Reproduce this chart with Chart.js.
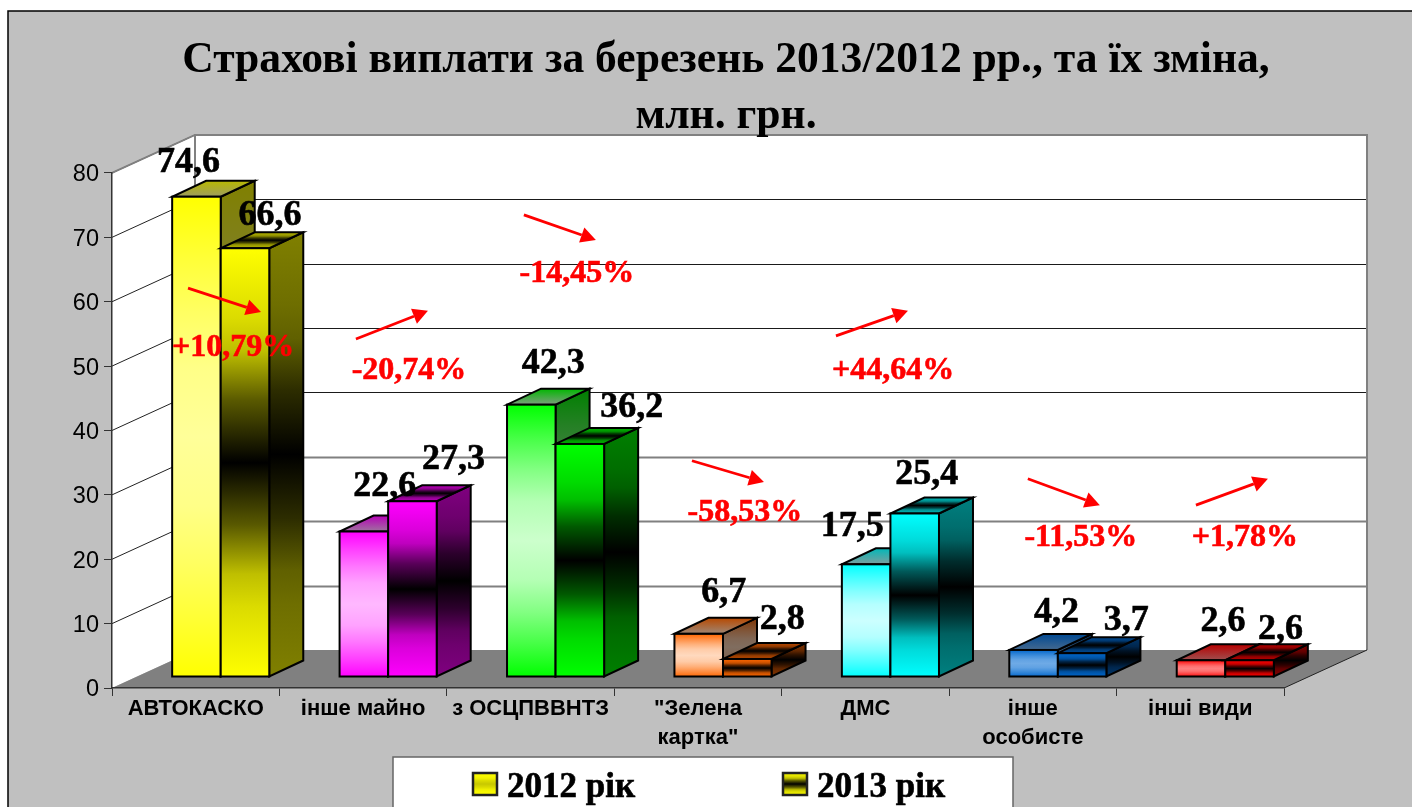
<!DOCTYPE html>
<html lang="uk">
<head>
<meta charset="utf-8">
<title>Страхові виплати</title>
<style>html,body{margin:0;padding:0;background:#fff;overflow:hidden}canvas{display:block}</style>
<script src="https://cdn.jsdelivr.net/npm/chart.js@4"></script>
</head>
<body>
<canvas id="c" width="1412" height="807"></canvas>
<script>
const categories = ['АВТОКАСКО','інше майно','з ОСЦПВВНТЗ',['"Зелена','картка"'],'ДМС',['інше','особисте'],'інші види'];
const values2012 = [74.6,22.6,42.3,6.7,17.5,4.2,2.6];
const values2013 = [66.6,27.3,36.2,2.8,25.4,3.7,2.6];
const labels2012 = ['74,6','22,6','42,3','6,7','17,5','4,2','2,6'];
const labels2013 = ['66,6','27,3','36,2','2,8','25,4','3,7','2,6'];
const changeLabels = ['+10,79%','-20,74%','-14,45%','-58,53%','+44,64%','-11,53%','+1,78%'];
const seriesNames = ['2012 рік','2013 рік'];
const yTicks = [0,10,20,30,40,50,60,70,80];

// styling: [r,g,b] face colour for every category
const faceColours = [[255,255,0],[255,0,255],[0,255,0],[255,102,0],[0,255,255],[0,102,204],[255,0,0]];
const midColours2012 = [[255,255,153],[255,184,255],[204,255,204],[255,217,190],[204,255,255],[110,170,230],[255,128,128]];

// layout of annotations, in axis units: [category position, value]
const arrowFrom = [[-0.046,62.1],[0.957,54.2],[1.96,73.5],[2.964,35.3],[3.824,54.7],[4.97,32.5],[5.974,28.4]];
const arrowTo   = [[0.39,58.4],[1.387,58.6],[2.39,69.6],[3.394,32],[4.254,58.6],[5.40,28.4],[6.404,32.5]];
const changeAt  = [[0.223,51.6],[1.274,48],[2.277,63.1],[3.28,25.9],[4.165,48],[5.287,22.1],[6.267,22.1]];
// value-label offsets from the front-top centre of a bar, pixels
const offs2012 = [[-8,-25],[21,-36],[22,-32],[25,-32],[-14,-28],[23,-28],[22,-29]];
const offs2013 = [[25,-23],[41,-32],[52,-27],[35,-30],[12,-29],[44,-23],[31,-21]];

const WALL_DX = 83, WALL_DY = 38;      // depth of the walls
const BAR_DX = 25, BAR_DY = -11;       // bars stand a bit inside the floor
const DEPTH_X = 34, DEPTH_Y = 16;      // depth of a bar
const SERIF = '"Liberation Serif"';
const SANS = '"Liberation Sans"';

const rgb = (c,k=1)=>`rgb(${Math.round(c[0]*k)},${Math.round(c[1]*k)},${Math.round(c[2]*k)})`;
const mix = (a,b,t)=>[0,1,2].map(n=>a[n]+(b[n]-a[n])*t);
// how quickly the colour leaves the mid band: [distance from mid, share of edge colour]
const RAMPS = [
  [[0,0],[.29,.12],[.52,.36],[.75,.65],[1,1]],
  [[0,0],[.29,.35],[.52,.75],[.67,.86],[1,1]]
];

function band(ctx,y0,y1,edge,mid,ds,k=1){
  const g = ctx.createLinearGradient(0,y0,0,y1);
  RAMPS[ds].forEach(([d,t])=>{
    const col = rgb(mix(mid,edge,t),k);
    g.addColorStop(.5-d/2,col); g.addColorStop(.5+d/2,col);
  });
  return g;
}
function midOf(ds,i){ return ds===0 ? midColours2012[i] : [0,0,0]; }

const faceFill = (ds)=>(c)=>{
  const i = c.dataIndex, ch = c.chart, col = faceColours[i];
  if (i===undefined || !ch.scales.y) return '#000';
  const v = ch.data.datasets[ds].data[i];
  const y0 = ch.scales.y.getPixelForValue(v), y1 = ch.scales.y.getPixelForValue(0);
  if (!isFinite(y0) || !isFinite(y1)) return rgb(col);
  return band(ch.ctx, y0, y1, col, midOf(ds,i), ds);
};

function poly(ctx,pts,fill,stroke,lw){
  ctx.beginPath();
  pts.forEach((p,i)=> i?ctx.lineTo(p[0],p[1]):ctx.moveTo(p[0],p[1]));
  ctx.closePath();
  if(fill){ctx.fillStyle=fill;ctx.fill();}
  if(stroke){ctx.strokeStyle=stroke;ctx.lineWidth=lw;ctx.lineJoin='miter';ctx.stroke();}
}
function heavyText(ctx,t,x,y,colour){
  ctx.fillStyle=colour; ctx.strokeStyle=colour; ctx.lineWidth=.6;
  ctx.fillText(t,x,y); ctx.strokeText(t,x,y);
}

const scene = {
  id:'scene',
  afterLayout(chart){ chart.titleBlock.left = 168; },
  beforeDraw(chart){
    const {ctx,chartArea:a,scales:{y}} = chart;
    // the value-axis numbers sit a little lower than the library's centring
    y.getLabelItems(a).forEach(it=>{
      if(!it.moved){ it.options.translation[1]+=2; it.moved=true; }
    });
    ctx.save();
    ctx.fillStyle='#fff'; ctx.fillRect(0,0,1412,807);
    ctx.fillStyle='#C0C0C0'; ctx.fillRect(8,11,1404,796);
    ctx.strokeStyle='#000'; ctx.lineWidth=1.5;
    ctx.beginPath(); ctx.moveTo(8,807); ctx.lineTo(8,11); ctx.lineTo(1412,11); ctx.stroke();
    const L=a.left,R=a.right,T=a.top,B=a.bottom;
    // walls and floor
    poly(ctx,[[L,T],[L+WALL_DX,T-WALL_DY],[L+WALL_DX,B-WALL_DY],[L,B]],'#fff');
    ctx.fillStyle='#fff'; ctx.fillRect(L+WALL_DX,T-WALL_DY,R-L,B-T);
    poly(ctx,[[L,B],[L+WALL_DX,B-WALL_DY],[R+WALL_DX,B-WALL_DY],[R,B]],'#808080');
    // grid
    yTicks.forEach(v=>{
      if(v===0) return;
      const p=y.getPixelForValue(v);
      ctx.beginPath();
      ctx.strokeStyle='#222'; ctx.lineWidth=1;
      ctx.moveTo(L,p); ctx.lineTo(L+WALL_DX,p-WALL_DY); ctx.stroke();
      if(v===80) return;
      ctx.beginPath();
      if(v>=40){ctx.strokeStyle='#1a1a1a';ctx.lineWidth=1;}
      else {ctx.strokeStyle='#808080';ctx.lineWidth=2;}
      const q=Math.round(p-WALL_DY)+.5;
      ctx.moveTo(L+WALL_DX,q); ctx.lineTo(R+WALL_DX,q); ctx.stroke();
    });
    // wall outline
    ctx.strokeStyle='#808080'; ctx.lineWidth=2;
    ctx.beginPath();
    ctx.moveTo(L,T); ctx.lineTo(L+WALL_DX,T-WALL_DY); ctx.lineTo(R+WALL_DX,T-WALL_DY); ctx.lineTo(R+WALL_DX,B-WALL_DY);
    ctx.moveTo(L+WALL_DX,T-WALL_DY); ctx.lineTo(L+WALL_DX,B-WALL_DY);
    ctx.stroke();
    ctx.strokeStyle='#222'; ctx.lineWidth=1;
    ctx.beginPath(); ctx.moveTo(R+WALL_DX,B-WALL_DY); ctx.lineTo(R,B); ctx.stroke();
    ctx.restore();
  },
  beforeDatasetsDraw(chart){
    const {ctx} = chart;
    const metas=[chart.getDatasetMeta(0),chart.getDatasetMeta(1)];
    ctx.save();
    ctx.translate(BAR_DX,BAR_DY);
    categories.forEach((_,i)=>{
      metas.forEach((m,ds)=>{
        const el=m.data[i]; const w=el.width, x0=el.x-w/2, x1=el.x+w/2, t=el.y, b=el.base;
        const c=faceColours[i], mid=midOf(ds,i);
        // side
        const sideFill=band(ctx,t-DEPTH_Y,b,c,mid,ds,.5);
        poly(ctx,[[x1,t],[x1+DEPTH_X,t-DEPTH_Y],[x1+DEPTH_X,b-DEPTH_Y],[x1,b]],sideFill,'#000',2);
        // top
        let topFill;
        if(ds===0){
          topFill=ctx.createLinearGradient(0,t-DEPTH_Y,0,t);
          topFill.addColorStop(0,rgb(c,.72)); topFill.addColorStop(1,rgb(mid,.62));
        } else topFill=band(ctx,t-DEPTH_Y,t,c,mid,ds,.72);
        poly(ctx,[[x0,t],[x1,t],[x1+DEPTH_X,t-DEPTH_Y],[x0+DEPTH_X,t-DEPTH_Y]],topFill,'#000',2);
        // front, drawn by the library's own bar element
        el.draw(ctx,chart.chartArea);
        ctx.strokeStyle='#000'; ctx.lineWidth=2;
        ctx.strokeRect(x0,t,w,b-t);
      });
    });
    ctx.restore();
    return false;
  },
  afterDraw(chart){
    const {ctx,scales:{x,y}} = chart;
    const metas=[chart.getDatasetMeta(0),chart.getDatasetMeta(1)];
    ctx.save();
    // value labels
    ctx.font=`bold 36px ${SERIF}`; ctx.textAlign='center'; ctx.textBaseline='alphabetic';
    categories.forEach((_,i)=>{
      [[labels2012,offs2012],[labels2013,offs2013]].forEach(([lab,off],ds)=>{
        const el=metas[ds].data[i];
        heavyText(ctx,lab[i],el.x+BAR_DX+off[i][0],el.y+BAR_DY+off[i][1],'#000');
      });
    });
    // change arrows and texts
    const px=p=>[x.getPixelForValue(0)+p[0]*(x.getPixelForValue(1)-x.getPixelForValue(0)),y.getPixelForValue(p[1])];
    changeLabels.forEach((t,i)=>{
      const a=px(arrowFrom[i]), b=px(arrowTo[i]);
      const ang=Math.atan2(b[1]-a[1],b[0]-a[0]), hl=15, hw=8;
      const cx=Math.cos(ang),sx=Math.sin(ang);
      ctx.strokeStyle='#FF0000'; ctx.lineWidth=2.8;
      ctx.beginPath(); ctx.moveTo(a[0],a[1]); ctx.lineTo(b[0]-cx*hl,b[1]-sx*hl); ctx.stroke();
      poly(ctx,[b,[b[0]-cx*hl-sx*hw,b[1]-sx*hl+cx*hw],[b[0]-cx*hl+sx*hw,b[1]-sx*hl-cx*hw]],'#FF0000');
      const c=px(changeAt[i]);
      ctx.font=`bold 32px ${SERIF}`; ctx.textAlign='center';
      heavyText(ctx,t,c[0],c[1],'#FF0000');
    });
    // legend
    ctx.fillStyle='#fff'; ctx.fillRect(393,757,620,50);
    ctx.strokeStyle='#666'; ctx.lineWidth=1.5;
    ctx.beginPath(); ctx.moveTo(393,807); ctx.lineTo(393,757); ctx.lineTo(1013,757); ctx.lineTo(1013,807); ctx.stroke();
    const swatchX=[473,783], textX=[507,817];
    seriesNames.forEach((n,i)=>{
      ctx.fillStyle=band(ctx,773,795,faceColours[0],i?[0,0,0]:[200,200,0],1);
      ctx.fillRect(swatchX[i],773,24,22);
      ctx.strokeStyle='#222'; ctx.lineWidth=2.5; ctx.strokeRect(swatchX[i],773,24,22);
      ctx.font=`bold 35px ${SERIF}`; ctx.textAlign='left';
      heavyText(ctx,n,textX[i],797,'#000');
    });
    ctx.restore();
  }
};

new Chart(document.getElementById('c'),{
  type:'bar',
  plugins:[scene],
  data:{
    labels:categories,
    datasets:[
      {label:seriesNames[0],data:values2012,backgroundColor:faceFill(0),borderWidth:0},
      {label:seriesNames[1],data:values2013,backgroundColor:faceFill(1),borderWidth:0}
    ]
  },
  options:{
    responsive:false,
    animation:false,
    layout:{padding:{left:0,right:128,top:0,bottom:0}},
    datasets:{bar:{categoryPercentage:.58,barPercentage:1}},
    plugins:{
      legend:{display:false},
      tooltip:{enabled:false},
      title:{
        display:true,
        text:['Страхові виплати за березень 2013/2012 рр., та їх зміна,','млн. грн.'],
        color:'#000',
        font:{family:SERIF,size:43.6,weight:'bold',lineHeight:1.3},
        padding:{top:32,bottom:27.6}
      }
    },
    scales:{
      x:{
        afterFit(s){s.height=119;},
        grid:{drawOnChartArea:false,drawTicks:true,tickLength:8,color:'#333'},
        border:{color:'#333',width:1.5},
        ticks:{color:'#000',autoSkip:false,maxRotation:0,padding:-2,font:{family:SANS,size:22,weight:'bold',lineHeight:1.32}}
      },
      y:{
        min:0,max:80,
        afterFit(s){s.width=112;},
        afterBuildTicks(s){s.ticks=yTicks.map(v=>({value:v}));},
        grid:{drawOnChartArea:false,drawTicks:true,tickLength:8,color:'#333'},
        border:{color:'#333',width:1.5},
        ticks:{color:'#000',padding:5,font:{family:SANS,size:23.5}}
      }
    }
  }
});
</script>
</body>
</html>
